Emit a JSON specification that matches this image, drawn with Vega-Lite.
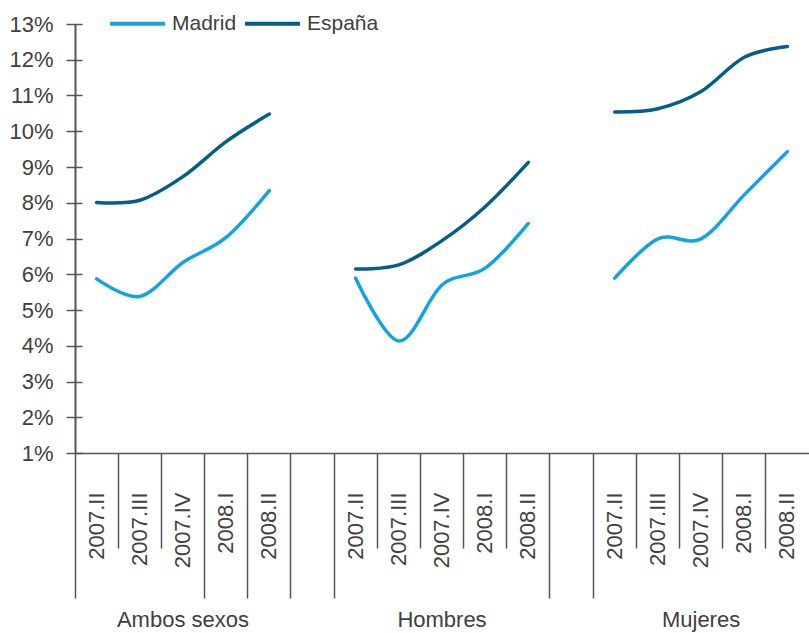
{
  "$schema": "https://vega.github.io/schema/vega-lite/v6.json",
  "width": 734,
  "height": 429,
  "autosize": {"type": "none"},
  "padding": {"left": 75, "top": 24, "right": 0, "bottom": 180},
  "background": "white",
  "config": {
    "view": {"stroke": null},
    "font": "Liberation Sans",
    "axis": {"labelFont": "Liberation Sans", "labelColor": "#404040", "domainColor": "#555555", "tickColor": "#555555", "grid": false, "title": null}
  },
  "datasets": {
    "series": [
      {"periodo": "Ambos sexos|2007.II", "grupo": "Ambos sexos", "serie": "Madrid", "valor": 5.87},
      {"periodo": "Ambos sexos|2007.III", "grupo": "Ambos sexos", "serie": "Madrid", "valor": 5.38},
      {"periodo": "Ambos sexos|2007.IV", "grupo": "Ambos sexos", "serie": "Madrid", "valor": 6.33},
      {"periodo": "Ambos sexos|2008.I", "grupo": "Ambos sexos", "serie": "Madrid", "valor": 7.03},
      {"periodo": "Ambos sexos|2008.II", "grupo": "Ambos sexos", "serie": "Madrid", "valor": 8.34},
      {"periodo": "Ambos sexos|2007.II", "grupo": "Ambos sexos", "serie": "España", "valor": 8.01},
      {"periodo": "Ambos sexos|2007.III", "grupo": "Ambos sexos", "serie": "España", "valor": 8.07},
      {"periodo": "Ambos sexos|2007.IV", "grupo": "Ambos sexos", "serie": "España", "valor": 8.73},
      {"periodo": "Ambos sexos|2008.I", "grupo": "Ambos sexos", "serie": "España", "valor": 9.71},
      {"periodo": "Ambos sexos|2008.II", "grupo": "Ambos sexos", "serie": "España", "valor": 10.48},
      {"periodo": "Hombres|2007.II", "grupo": "Hombres", "serie": "Madrid", "valor": 5.89},
      {"periodo": "Hombres|2007.III", "grupo": "Hombres", "serie": "Madrid", "valor": 4.13},
      {"periodo": "Hombres|2007.IV", "grupo": "Hombres", "serie": "Madrid", "valor": 5.70},
      {"periodo": "Hombres|2008.I", "grupo": "Hombres", "serie": "Madrid", "valor": 6.17},
      {"periodo": "Hombres|2008.II", "grupo": "Hombres", "serie": "Madrid", "valor": 7.42},
      {"periodo": "Hombres|2007.II", "grupo": "Hombres", "serie": "España", "valor": 6.15},
      {"periodo": "Hombres|2007.III", "grupo": "Hombres", "serie": "España", "valor": 6.26},
      {"periodo": "Hombres|2007.IV", "grupo": "Hombres", "serie": "España", "valor": 6.94},
      {"periodo": "Hombres|2008.I", "grupo": "Hombres", "serie": "España", "valor": 7.89},
      {"periodo": "Hombres|2008.II", "grupo": "Hombres", "serie": "España", "valor": 9.13},
      {"periodo": "Mujeres|2007.II", "grupo": "Mujeres", "serie": "Madrid", "valor": 5.89},
      {"periodo": "Mujeres|2007.III", "grupo": "Mujeres", "serie": "Madrid", "valor": 6.99},
      {"periodo": "Mujeres|2007.IV", "grupo": "Mujeres", "serie": "Madrid", "valor": 6.99},
      {"periodo": "Mujeres|2008.I", "grupo": "Mujeres", "serie": "Madrid", "valor": 8.22},
      {"periodo": "Mujeres|2008.II", "grupo": "Mujeres", "serie": "Madrid", "valor": 9.43},
      {"periodo": "Mujeres|2007.II", "grupo": "Mujeres", "serie": "España", "valor": 10.54},
      {"periodo": "Mujeres|2007.III", "grupo": "Mujeres", "serie": "España", "valor": 10.63},
      {"periodo": "Mujeres|2007.IV", "grupo": "Mujeres", "serie": "España", "valor": 11.11},
      {"periodo": "Mujeres|2008.I", "grupo": "Mujeres", "serie": "España", "valor": 12.07},
      {"periodo": "Mujeres|2008.II", "grupo": "Mujeres", "serie": "España", "valor": 12.37}
    ],
    "grupos": [
      {"grupo": "Ambos sexos"},
      {"grupo": "Hombres"},
      {"grupo": "Mujeres"}
    ]
  },
  "layer": [
    {
      "data": {"name": "series"},
      "mark": {"type": "line", "interpolate": "cardinal", "strokeWidth": 3.5, "strokeCap": "round", "strokeJoin": "round"},
      "encoding": {
        "x": {
          "field": "periodo",
          "type": "nominal",
          "scale": {
            "type": "band",
            "paddingInner": 0,
            "paddingOuter": 0,
            "domain": [
              "Ambos sexos|2007.II", "Ambos sexos|2007.III", "Ambos sexos|2007.IV", "Ambos sexos|2008.I", "Ambos sexos|2008.II",
              "gap1",
              "Hombres|2007.II", "Hombres|2007.III", "Hombres|2007.IV", "Hombres|2008.I", "Hombres|2008.II",
              "gap2",
              "Mujeres|2007.II", "Mujeres|2007.III", "Mujeres|2007.IV", "Mujeres|2008.I", "Mujeres|2008.II"
            ]
          },
          "axis": {
            "orient": "bottom",
            "bandPosition": 0,
            "labelAngle": -90,
            "labelFontSize": 22,
            "labelPadding": -56,
            "labelOverlap": false,
            "labelBound": false,
            "labelFlush": false,
            "labelExpr": "indexof(datum.value, '|') >= 0 ? split(datum.value, '|')[1] : ''",
            "tickSize": 95,
            "tickWidth": 1.5,
            "domainWidth": 1.5,
            "encoding": {
              "ticks": {
                "y2": {
                  "condition": {
                    "test": "indexof(['Ambos sexos|2007.II','Ambos sexos|2008.I','Ambos sexos|2008.II','gap1','Hombres|2007.II','gap2','Mujeres|2007.II'], datum.value) >= 0",
                    "value": 145
                  },
                  "value": 95
                }
              }
            }
          }
        },
        "y": {
          "field": "valor",
          "type": "quantitative",
          "scale": {"domain": [1, 13], "nice": false, "zero": false},
          "axis": {
            "values": [1, 2, 3, 4, 5, 6, 7, 8, 9, 10, 11, 12, 13],
            "labelExpr": "datum.value + '%'",
            "labelFontSize": 22,
            "labelPadding": 13,
            "tickSize": 9,
            "tickWidth": 1.5,
            "domainWidth": 2,
            "encoding": {"ticks": {"x": {"value": 7}}}
          }
        },
        "color": {
          "field": "serie",
          "type": "nominal",
          "scale": {"domain": ["Madrid", "España"], "range": ["#12A3E0", "#045E86"]},
          "legend": {
            "orient": "none",
            "legendX": 33,
            "legendY": -30,
            "direction": "horizontal",
            "title": null,
            "padding": 0,
            "symbolType": "stroke",
            "symbolSize": 3025,
            "symbolStrokeWidth": 4,
            "labelFontSize": 21,
            "labelColor": "#404040",
            "labelFont": "Liberation Sans",
            "labelOffset": 5,
            "columnPadding": 0
          }
        },
        "detail": {"field": "grupo", "type": "nominal"}
      }
    },
    {
      "data": {"name": "grupos"},
      "mark": {"type": "text", "opacity": 0},
      "encoding": {
        "x": {
          "field": "grupo",
          "type": "nominal",
          "scale": {"type": "band", "domain": ["Ambos sexos", "Hombres", "Mujeres"], "paddingInner": 0.16667, "paddingOuter": 0},
          "axis": {
            "orient": "bottom",
            "domain": false,
            "ticks": false,
            "labelAngle": 0,
            "labelFontSize": 22,
            "labelPadding": 156,
            "labelColor": "#404040"
          }
        },
        "text": {"value": ""}
      }
    }
  ],
  "resolve": {"scale": {"x": "independent"}, "axis": {"x": "independent"}}
}
